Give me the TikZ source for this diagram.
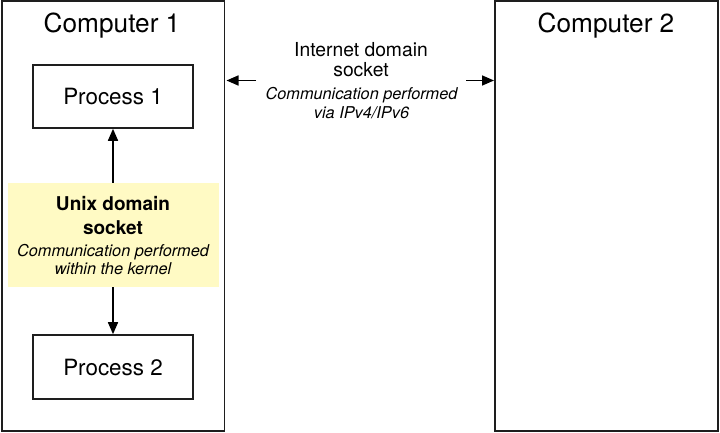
\documentclass[tikz,border=0pt]{standalone}
\usepackage{fontspec}
\setmainfont{TeX Gyre Heros}
\usetikzlibrary{arrows.meta}
\definecolor{sockyellow}{RGB}{255,250,196}
\definecolor{edgegray}{RGB}{30,30,30}
\tikzset{
  frame/.style={draw=edgegray, line width=1.6pt},
  arr/.style={line width=1.6pt, -{Triangle[length=12pt,width=10pt]}},
  big/.style={font=\fontsize{26.2}{28}\selectfont, anchor=base, inner sep=0pt},
  proc/.style={font=\fontsize{22.4}{24}\selectfont, inner sep=0pt},
  title/.style={font=\fontsize{19.3}{22}\selectfont, anchor=base, inner sep=0pt},
  btitle/.style={font=\fontsize{19}{22}\selectfont\bfseries, anchor=base, inner sep=0pt},
  sub/.style={font=\fontsize{16.3}{19}\selectfont\itshape, anchor=base, inner sep=0pt}
}
\begin{document}
\begin{tikzpicture}[x=1pt,y=-1pt]
\useasboundingbox (0,0) rectangle (720,433);
% computers
\draw[frame] (2,1) rectangle (224.5,431);
\draw[frame] (495,1) rectangle (718,431);
\node[big] (c1) at (112,33) {Computer 1};
\node[big] (c2) at (606,33) {Computer 2};
% processes
\node[frame, minimum width=160pt, minimum height=63pt, inner sep=0pt, proc] (p1) at (113,96.5) {Process 1};
\node[frame, minimum width=160pt, minimum height=64pt, inner sep=0pt, proc] (p2) at (113,367) {Process 2};
% unix domain socket
\node[fill=sockyellow, minimum width=211pt, minimum height=104pt, inner sep=0pt] (us) at (113,235) {};
\node[btitle] (u1) at (113,210) {Unix domain};
\node[btitle] (u2) at (113,234) {socket};
\node[sub] (u3) at (113,256) {Communication performed};
\node[sub] (u4) at (113,274.5) {within the kernel};
\draw[arr] (us.north) -- (p1.south);
\draw[arr] (us.south) -- (p2.north);
% internet domain socket
\node[title] (i1) at (361,57) {Internet domain};
\node[title] (i2) at (361,77) {socket};
\node[sub] (i3) at (361.5,100) {Communication performed};
\node[sub] (i4) at (361.5,119) {via IPv4/IPv6};
\coordinate (lt) at (256,80.5);
\coordinate (lh) at (226.5,80.5);
\coordinate (rt) at (466,80.5);
\coordinate (rh) at (494,80.5);
\draw[arr] (lt) -- (lh);
\draw[arr] (rt) -- (rh);
\end{tikzpicture}
\end{document}
